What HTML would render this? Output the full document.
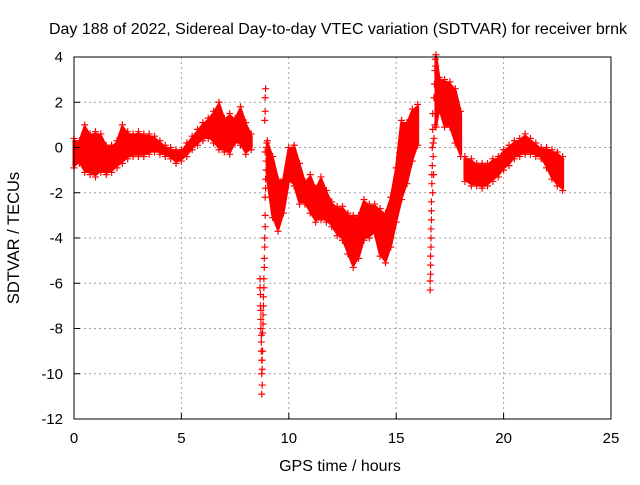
<!DOCTYPE html>
<html><head><meta charset="utf-8"><style>
body{margin:0;background:#fff}
svg{font-family:"Liberation Sans",sans-serif;font-size:15px}
</style></head><body>
<svg width="640" height="480">
<rect width="640" height="480" fill="#fff"/>
<text x="338" y="34" text-anchor="middle" font-size="16" textLength="578" lengthAdjust="spacingAndGlyphs">Day 188 of 2022, Sidereal Day-to-day VTEC variation (SDTVAR) for receiver brnk</text>
<text x="340" y="471" text-anchor="middle" font-size="16">GPS time / hours</text>
<text transform="translate(19,238) rotate(-90)" text-anchor="middle" font-size="16.5">SDTVAR / TECUs</text>
<g id="grid"></g>
<g id="marks"></g>
<rect x="74" y="57" width="537" height="362" fill="none" stroke="#000"/>
<g id="ticks"></g>
</svg>
<script>
const xTicks=[0,5,10,15,20,25];
const yTicks=[4,2,0,-2,-4,-6,-8,-10,-12];
const seg1T=[0,0.25,0.5,0.75,1,1.25,1.5,1.75,2,2.25,2.5,2.75,3,3.25,3.5,3.75,4,4.25,4.5,4.75,5,5.25,5.5,5.75,6,6.25,6.5,6.75,7,7.25,7.5,7.75,8,8.25];
const seg1Lo=[-0.8,-0.6,-1.0,-1.1,-1.2,-1.0,-1.1,-1.0,-0.8,-0.6,-0.4,-0.3,-0.3,-0.3,-0.2,-0.1,-0.2,-0.3,-0.4,-0.6,-0.5,-0.3,0.0,0.2,0.4,0.5,0.3,0.0,-0.1,-0.2,0.3,0.2,-0.2,0.0];
const seg1Hi=[0.3,0.2,0.9,0.5,0.6,0.5,0.0,0.0,0.2,0.9,0.6,0.5,0.6,0.5,0.5,0.4,0.2,0.0,-0.1,-0.2,-0.2,0.1,0.4,0.7,1.0,1.2,1.5,1.9,1.2,1.4,1.2,1.7,1.0,0.5];
const seg2T=[9.0,9.25,9.5,9.75,10,10.25,10.5,10.75,11,11.25,11.5,11.75,12,12.25,12.5,12.75,13,13.25,13.5,13.75,14,14.25,14.5,14.75,15,15.25,15.5,15.75,16];
const seg2Lo=[-1.3,-3.0,-3.6,-2.8,-1.4,-1.6,-2.4,-2.4,-2.8,-3.2,-3.1,-3.2,-3.4,-3.8,-4.0,-4.6,-5.2,-4.8,-4.0,-3.9,-3.7,-4.7,-5.0,-4.3,-3.2,-2.2,-1.5,-0.5,0.2];
const seg2Hi=[0.2,-0.5,-1.5,-1.5,-0.1,0.0,-0.8,-1.6,-1.3,-1.9,-1.4,-2.0,-2.5,-2.7,-2.7,-3.0,-3.1,-3.1,-2.4,-2.6,-2.6,-2.8,-3.0,-2.3,-1.0,1.1,1.0,1.6,1.8];
const seg3T=[16.85,17,17.25,17.5,17.75,18.0];
const seg3Lo=[1.0,1.8,1.0,1.0,0.3,-0.3];
const seg3Hi=[4.0,3.0,2.9,2.8,2.5,1.5];
const seg4T=[18.2,18.5,18.75,19,19.25,19.5,19.75,20,20.25,20.5,20.75,21,21.25,21.5,21.75,22,22.25,22.5,22.75];
const seg4Lo=[-1.4,-1.6,-1.6,-1.7,-1.6,-1.4,-1.2,-0.9,-0.7,-0.4,-0.3,-0.2,-0.2,-0.3,-0.4,-0.8,-1.3,-1.6,-1.8];
const seg4Hi=[-0.5,-0.6,-0.8,-0.8,-0.8,-0.6,-0.5,-0.2,0.0,0.2,0.3,0.5,0.3,0.1,-0.1,-0.1,-0.2,-0.3,-0.5];
const spike1T=[8.66,8.66,8.68,8.68,8.7,8.7,8.7,8.72,8.72,8.72,8.74,8.74,8.74,8.76,8.76,8.76,8.78,8.78,8.8,8.8,8.82,8.82,8.84,8.84,8.86,8.86,8.88,8.88,8.9,8.9,8.9,8.92,8.92,8.94,8.94,8.88,8.9,8.9,8.92,8.9,8.96,8.98];
const spike1V=[-5.8,-6.2,-6.5,-7.0,-7.2,-7.6,-8.0,-8.3,-8.6,-9.0,-9.4,-10.0,-10.9,-10.5,-9.8,-9.4,-9.0,-8.2,-7.8,-7.4,-7.0,-6.6,-6.2,-5.8,-5.3,-4.9,-4.4,-4.0,-3.5,-3.0,-2.2,-1.8,-1.4,-1.0,-0.6,1.2,1.6,2.2,2.6,-0.2,0.0,0.2];
const spike2T=[16.58,16.58,16.6,16.6,16.6,16.62,16.62,16.62,16.64,16.64,16.64,16.66,16.66,16.68,16.68,16.7,16.7,16.72,16.74,16.76,16.78,16.8,16.82,16.84,16.7,16.8,16.76,16.72];
const spike2V=[-6.3,-5.9,-5.6,-5.2,-4.8,-4.4,-4.0,-3.6,-3.2,-2.8,-2.4,-1.6,-1.2,-0.8,0.0,0.8,1.5,-0.4,-1.2,2.2,2.8,3.4,3.9,3.6,-2.0,1.0,0.4,0.2];
const X=h=>74+h*537/25, Y=v=>57+(4-v)*362/16;
const NS='http://www.w3.org/2000/svg';
const grid=document.getElementById('grid'),ticks=document.getElementById('ticks'),marks=document.getElementById('marks');
function mk(tag,at,parent){const e=document.createElementNS(NS,tag);for(const k in at)e.setAttribute(k,at[k]);parent.appendChild(e);return e;}
xTicks.forEach(t=>{
 if(t>0&&t<25){const g=mk('line',{x1:X(t),x2:X(t),y1:57,y2:419,stroke:'#a0a0a0','stroke-dasharray':'2,3'},grid);
 
 }
 const tl=mk('line',{x1:X(t),x2:X(t),y1:419,y2:413,stroke:'#000'},ticks);
 
 
 const tx=mk('text',{x:X(t),y:443,'text-anchor':'middle'},ticks);tx.textContent=t;
 
 
});
yTicks.forEach(t=>{
 if(t<4&&t>-12){const g=mk('line',{x1:74,x2:611,y1:Y(t),y2:Y(t),stroke:'#a0a0a0','stroke-dasharray':'2,3'},grid);
 
 }
 const tl=mk('line',{x1:74,x2:80,y1:Y(t),y2:Y(t),stroke:'#000'},ticks);
 
 
 const tx=mk('text',{x:63,y:Y(t)+5,'text-anchor':'end'},ticks);tx.textContent=t;
 
 
});
function plus(h,v){const x=X(h),y=Y(v);
 const p=mk('path',{d:`M${x-3.5},${y}H${x+3.5}M${x},${y-3.5}V${y+3.5}`,stroke:'#f00','stroke-width':1.2,fill:'none'},marks);
 
 }
function band(T,Lo,Hi,name){
 let d='M'+T.map((t,i)=>X(t)+','+Y(Hi[i])).join('L')+'L'+T.map((t,i)=>X(t)+','+Y(Lo[i])).reverse().join('L')+'Z';
 const p=mk('path',{d:d,fill:'#f00',stroke:'#f00','stroke-width':3,'stroke-linejoin':'round'},marks);
 
 
 T.forEach((t,i)=>{plus(t,Lo[i]-0.1);plus(t,Hi[i]+0.1);});
}
band(seg1T,seg1Lo,seg1Hi,'series-segment-1');
band(seg2T,seg2Lo,seg2Hi,'series-segment-2');
band(seg3T,seg3Lo,seg3Hi,'series-segment-3');
band(seg4T,seg4Lo,seg4Hi,'series-segment-4');
spike1T.forEach((t,i)=>plus(t,spike1V[i]));
spike2T.forEach((t,i)=>plus(t,spike2V[i]));
</script>
</body></html>
